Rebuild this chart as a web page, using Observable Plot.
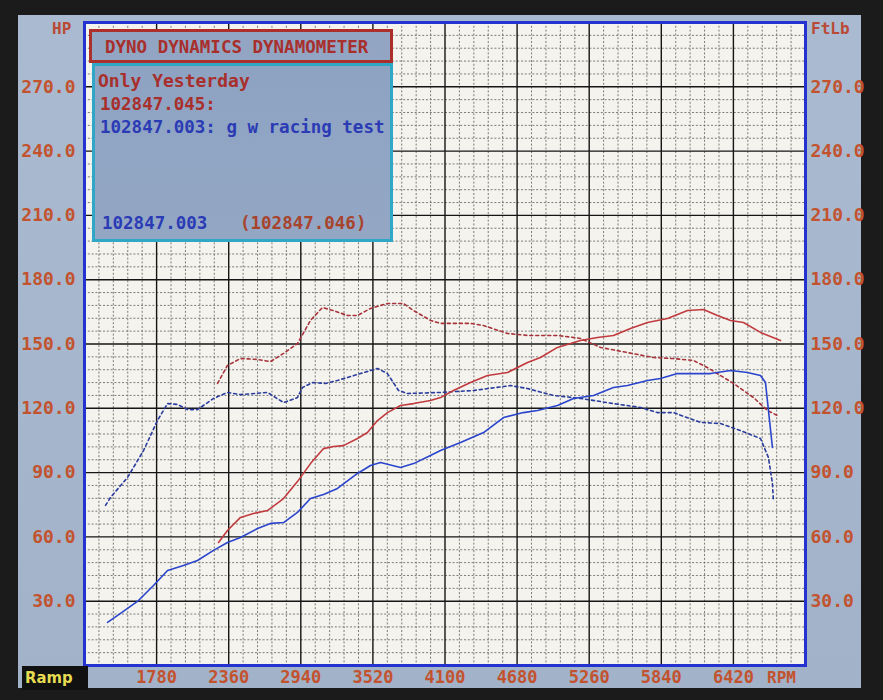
<!DOCTYPE html>
<html>
<head>
<meta charset="utf-8">
<script src="https://cdn.jsdelivr.net/npm/d3@7"></script>
<script src="https://cdn.jsdelivr.net/npm/@observablehq/plot@0.6"></script>
<style>
html,body{margin:0;padding:0;background:#1b1b1b;width:883px;height:700px;overflow:hidden}
#screen{position:absolute;left:18px;top:15px;width:843px;height:673px;background:linear-gradient(180deg,#aabbd1,#a1b2c9)}
#chart{position:absolute;left:0;top:0}
.t{position:absolute;font-family:"DejaVu Sans Mono",monospace;font-weight:bold;white-space:pre;line-height:18px;font-size:18px}
.box{position:absolute;box-sizing:border-box}
</style>
</head>
<body>
<div id="screen"></div>
<div id="chart"></div>
<div class="box" style="left:89px;top:29px;width:304px;height:34px;border:3px solid #ad2f2c;background:#92a5c3"></div>
<div class="box" style="left:92px;top:63px;width:301px;height:179px;border:3px solid #2fa7c6;background:linear-gradient(180deg,#8ea2c2,#93a7c5)"></div>
<div class="t" style="left:105px;top:38px;color:#a82f2c;font-size:17.5px">DYNO DYNAMICS DYNAMOMETER</div>
<div class="t" style="left:98px;top:72px;color:#a82f2c">Only Yesterday</div>
<div class="t" style="left:100px;top:95px;color:#a82f2c;font-size:17.5px">102847.045:</div>
<div class="t" style="left:100px;top:118px;color:#2a3bb5;font-size:17.5px">102847.003: g w racing test</div>
<div class="t" style="left:102px;top:214px;color:#2a3bb5;font-size:17.5px">102847.003</div>
<div class="t" style="left:240px;top:214px;color:#a8432c;font-size:17.5px">(102847.046)</div>
<div class="t" style="left:52px;top:20px;color:#b94a36;font-size:16px">HP</div>
<div class="t" style="left:811px;top:20px;color:#b94a36;font-size:16px">FtLb</div>
<div class="t" style="left:767px;top:669px;color:#c3532f;font-size:16px">RPM</div>
<div class="box" style="left:22px;top:666px;width:66px;height:24px;background:#111"></div>
<div class="t" style="left:25px;top:669px;color:#e6dc52;font-size:16.5px;font-family:'DejaVu Sans Condensed',sans-serif">Ramp</div>
<script>
// ---- data (RPM vs HP / FtLb, plotted on the same 0-300 scale) ----
const redPowerRpm = [2278,2350,2455,2559,2672,2801,2913,3018,3123,3203,3283,3396,3476,3557,3637,3742,3847,3983,4064,4168,4305,4442,4603,4764,4868,5005,5190,5327,5455,5592,5729,5890,6051,6179,6292,6397,6501,6638,6799];
const redPowerHp  = [57.4,63.0,69.1,70.9,72.3,77.9,85.8,94.2,101.2,102.2,102.6,105.9,108.7,114.3,118.0,121.3,122.2,123.6,125.0,128.3,132.0,135.3,136.7,141.4,143.7,148.4,151.6,153.0,154.0,157.2,160.0,161.9,165.6,166.1,163.3,161.0,160.0,155.4,151.6];

const redTorqueRpm = [2270,2350,2455,2592,2696,2801,2913,3018,3114,3203,3316,3396,3501,3637,3766,3847,3983,4064,4305,4410,4603,4764,5005,5190,5351,5568,5777,5938,6099,6211,6421,6582,6694,6774];
const redTorqueFtLb = [131.6,140.0,143.2,142.8,141.8,145.6,150.2,161.0,167.0,165.6,163.3,163.3,166.6,168.9,168.9,165.6,161.0,159.6,159.6,158.6,154.9,154.0,154.0,152.6,148.4,146.0,143.7,143.2,142.3,139.0,131.6,125.0,119.0,116.6];

const bluePowerRpm = [1385,1490,1634,1755,1868,1996,2109,2238,2350,2455,2592,2696,2801,2913,3018,3123,3235,3396,3501,3581,3742,3847,3983,4064,4225,4410,4571,4731,4844,5005,5134,5295,5455,5568,5729,5833,5970,6099,6236,6397,6533,6638,6678,6702,6734];
const bluePowerHp  = [20.1,24.3,30.3,37.3,44.3,46.7,49.0,53.7,57.4,59.7,63.9,66.3,66.7,71.4,77.9,79.8,82.6,89.6,93.3,94.7,92.4,94.2,98.0,100.3,104.0,108.7,115.7,118.0,119.0,121.3,124.6,126.0,129.7,130.6,133.0,133.9,136.2,136.2,136.2,137.6,136.7,135.3,132.0,119.0,101.7];

const blueTorqueRpm = [1369,1409,1546,1675,1787,1868,1948,2029,2109,2238,2350,2455,2672,2801,2913,2954,3034,3139,3235,3420,3557,3637,3726,3798,4064,4329,4627,4764,4973,5190,5455,5672,5809,5938,6155,6316,6477,6638,6702,6734,6742];
const blueTorqueFtLb = [74.7,78.4,87.7,100.3,114.3,122.2,121.8,119.4,119.4,124.6,127.4,126.4,127.4,122.7,125.0,129.7,132.0,131.6,133.0,136.2,138.6,136.2,128.3,126.9,127.4,128.3,130.6,129.2,126.0,124.6,122.2,120.4,118.0,118.0,113.4,112.9,109.6,105.9,97.0,84.9,77.0];

const xTickLabels = [1780,2360,2940,3520,4100,4680,5260,5840,6420];
const yTickLabels = [30,60,90,120,150,180,210,240,270];

// ---- build tables ----
const series = (rpm, vals) => rpm.map((r, i) => ({rpm: r, v: vals[i]}));
const redPower = series(redPowerRpm, redPowerHp);
const redTorque = series(redTorqueRpm, redTorqueFtLb);
const bluePower = series(bluePowerRpm, bluePowerHp);
const blueTorque = series(blueTorqueRpm, blueTorqueFtLb);

const xMajor = d3.range(0, 11).map(k => 1200 + 580 * k);
const xMinor = d3.range(0, 51).map(k => 1200 + 116 * k).filter((d, i) => i % 5 !== 0);
const yMajor = d3.range(0, 11).map(k => 30 * k);
const yMinor = d3.range(0, 51).map(k => 6 * k).filter((d, i) => i % 5 !== 0);

const labelColor = "#c3532f";
const red = "#c13a3e", blue = "#2a45cc";

const chart = Plot.plot({
  width: 883, height: 700,
  marginLeft: 84, marginRight: 78, marginTop: 22, marginBottom: 35,
  x: {domain: [1200, 7000]},
  y: {domain: [0, 300]},
  style: {background: "transparent", fontFamily: "'DejaVu Sans Mono', monospace", fontWeight: "bold", overflow: "visible"},
  marks: [
    Plot.frame({fill: "#f4f3ee", stroke: null}),
    Plot.ruleX(xMinor, {stroke: "#6e6e6e", strokeWidth: 0.9, strokeDasharray: "2,1.8"}),
    Plot.ruleY(yMinor, {stroke: "#6e6e6e", strokeWidth: 0.9, strokeDasharray: "2,1.8"}),
    Plot.ruleX(xMajor, {stroke: "#151515", strokeWidth: 1.4}),
    Plot.ruleY(yMajor, {stroke: "#151515", strokeWidth: 1.4}),
    Plot.line(redTorque, {x: "rpm", y: "v", stroke: "#a8333a", strokeWidth: 1.6, strokeDasharray: "3,3"}),
    Plot.line(blueTorque, {x: "rpm", y: "v", stroke: "#2a3d9e", strokeWidth: 1.6, strokeDasharray: "3,3"}),
    Plot.line(redPower, {x: "rpm", y: "v", stroke: red, strokeWidth: 1.6}),
    Plot.line(bluePower, {x: "rpm", y: "v", stroke: blue, strokeWidth: 1.6}),
    Plot.frame({stroke: "#2433d0", strokeWidth: 3}),
    Plot.axisY(yTickLabels, {anchor: "left", tickSize: 0, tickPadding: 9, tickFormat: d => d.toFixed(1), fill: labelColor, fontSize: 18, label: null}),
    Plot.axisY(yTickLabels, {anchor: "right", tickSize: 0, tickPadding: 5, tickFormat: d => d.toFixed(1), fill: labelColor, fontSize: 18, label: null}),
    Plot.axisX(xTickLabels, {anchor: "bottom", tickSize: 0, tickPadding: 5, tickFormat: d => String(d), fill: labelColor, fontSize: 17, label: null})
  ]
});
document.getElementById("chart").appendChild(chart);
</script>
</body>
</html>
